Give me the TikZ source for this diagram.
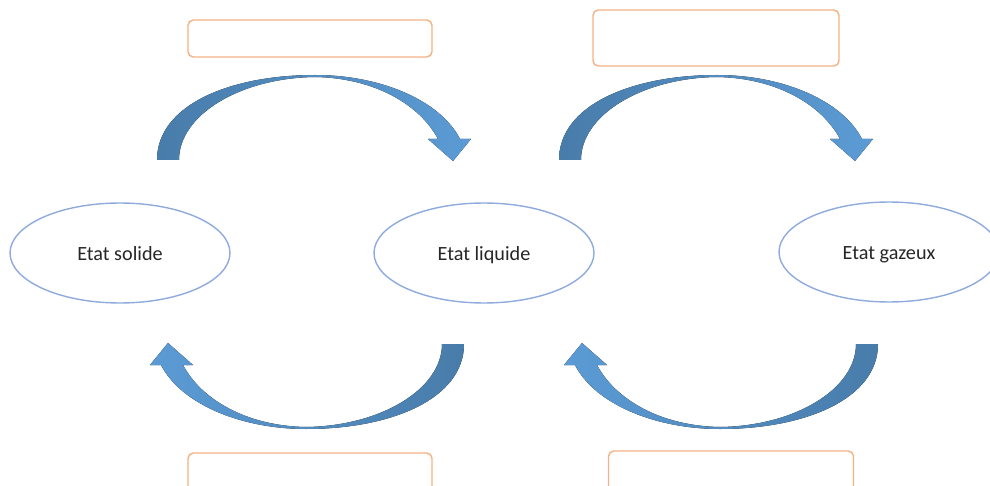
\documentclass[tikz,border=0pt]{standalone}
\usepackage{fontspec}
\setmainfont{Carlito}
\usepackage{tikz}
\usetikzlibrary{shapes.geometric}
\definecolor{arrowdark}{RGB}{72,124,170}
\definecolor{arrowlight}{RGB}{91,155,213}
\definecolor{ellipseline}{RGB}{143,170,220}
\definecolor{boxline}{RGB}{244,177,131}
\definecolor{textgray}{RGB}{38,38,38}
\newcommand{\curvedarrow}{(-157,42) .. controls (-157,-13) and (-84,-43) .. (1,-43)
  .. controls (66,-43) and (126,-18) .. (146,21) -- (157,21) -- (139,43) -- (114,21) -- (124,21)
  .. controls (106,-13) and (61,-40) .. (1,-41) .. controls (-74,-40) and (-135,-3) .. (-135,42) -- cycle}
\begin{document}
\begin{tikzpicture}[x=0.02cm,y=-0.02cm]
	\tikzstyle{state}=[ellipse,draw=ellipseline,line width=0.8pt,minimum width=4.4cm,minimum height=2cm,text=textgray,text height=10pt,text depth=2pt,font=\fontsize{11.5}{14}\selectfont]
	\tikzstyle{blank}=[rectangle,draw=boxline,line width=0.8pt,rounded corners=3pt]
	\tikzstyle{forward}=[left color=arrowdark,right color=arrowlight]
	\tikzstyle{backward}=[left color=arrowlight,right color=arrowdark]
	\useasboundingbox (0,0) rectangle (990,486);
	\node (solide)  at (120,253) [state] {Etat solide};
	\node (liquide) at (484,253) [state] {Etat liquide};
	\node (gazeux)  at (889,252) [state] {Etat gazeux};
	\node (box1) at (310,38.5) [blank,minimum width=4.88cm,minimum height=0.74cm] {};
	\node (box2) at (716,38)   [blank,minimum width=4.92cm,minimum height=1.12cm] {};
	\node (box3) at (310,475)  [blank,minimum width=4.88cm,minimum height=0.88cm] {};
	\node (box4) at (731,478)  [blank,minimum width=4.9cm,minimum height=1.08cm] {};
	\coordinate (fusion)          at (314,118);
	\coordinate (vaporisation)    at (716,118);
	\coordinate (solidification)  at (307,386);
	\coordinate (condensation)    at (721,386);
	\begin{scope}[shift={(fusion)}]
		\fill [forward] \curvedarrow;
	\end{scope}
	\begin{scope}[shift={(vaporisation)}]
		\fill [forward] \curvedarrow;
	\end{scope}
	\begin{scope}[shift={(solidification)},rotate=180]
		\fill [backward] \curvedarrow;
	\end{scope}
	\begin{scope}[shift={(condensation)},rotate=180]
		\fill [backward] \curvedarrow;
	\end{scope}
\end{tikzpicture}
\end{document}
